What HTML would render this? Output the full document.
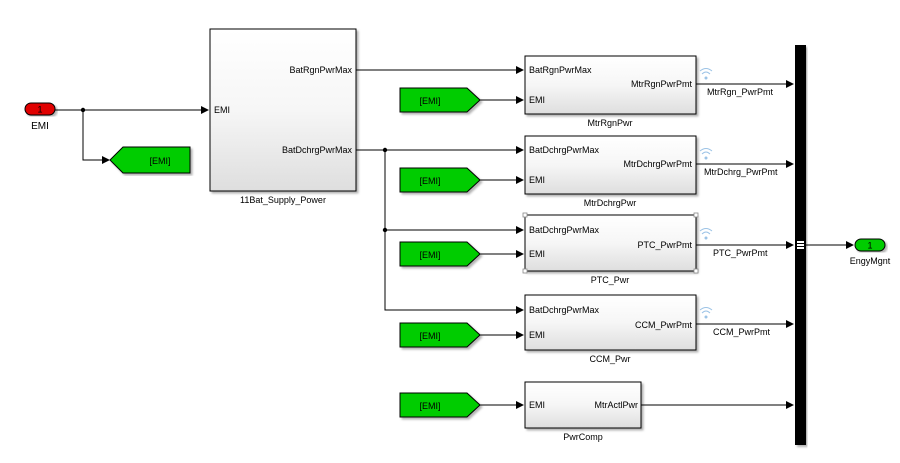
<!DOCTYPE html>
<html><head><meta charset="utf-8"><style>
html,body{margin:0;padding:0;background:#fff;}
svg{display:block;font-family:"Liberation Sans",Arial,sans-serif;}
</style></head><body>
<svg width="900" height="463" viewBox="0 0 900 463" xmlns="http://www.w3.org/2000/svg">
<defs>
<linearGradient id="g" x1="0" y1="0" x2="0" y2="1">
<stop offset="0" stop-color="#ffffff"/><stop offset="0.5" stop-color="#f6f6f6"/><stop offset="1" stop-color="#dedede"/>
</linearGradient>
<marker id="a" markerWidth="8" markerHeight="8" refX="7" refY="4" orient="auto" markerUnits="userSpaceOnUse">
<path d="M0,0 L8,4 L0,8 z" fill="#000"/></marker>
<filter id="s" x="-5%" y="-5%" width="115%" height="115%"><feDropShadow dx="2" dy="2" stdDeviation="1" flood-color="#000" flood-opacity="0.3"/></filter>
</defs>
<g font-size="9" fill="#000">
<rect x="25" y="103" width="30" height="12" rx="6" fill="#e00000" stroke="#000" stroke-width="1" filter="url(#s)"/>
<text x="40" y="112.5" text-anchor="middle" font-size="9">1</text>
<text x="40" y="129" text-anchor="middle" font-size="10">EMI</text>
<g stroke="#000" stroke-width="1" fill="none">
<path d="M55,110 H208" marker-end="url(#a)"/>
<path d="M83,110 V160 H109" marker-end="url(#a)"/>
<path d="M356,70 H523" marker-end="url(#a)"/>
<path d="M356,150 H523" marker-end="url(#a)"/>
<path d="M385,150 V310 H523" marker-end="url(#a)"/>
<path d="M385,230 H523" marker-end="url(#a)"/>
<path d="M480,100 H523" marker-end="url(#a)"/>
<path d="M480,180 H523" marker-end="url(#a)"/>
<path d="M480,254 H523" marker-end="url(#a)"/>
<path d="M480,335 H523" marker-end="url(#a)"/>
<path d="M480,405 H523" marker-end="url(#a)"/>
<path d="M696,84 H793" marker-end="url(#a)"/>
<path d="M696,164 H793" marker-end="url(#a)"/>
<path d="M696,245 H793" marker-end="url(#a)"/>
<path d="M696,324 H793" marker-end="url(#a)"/>
<path d="M641,405 H793" marker-end="url(#a)"/>
<path d="M806,245 H853" marker-end="url(#a)"/>
</g>
<circle cx="83" cy="110" r="2.2" fill="#000"/>
<circle cx="385" cy="150" r="2.2" fill="#000"/>
<circle cx="385" cy="230" r="2.2" fill="#000"/>
<path d="M110,160 L123,147 H190 V173 H123 Z" fill="#00cc00" stroke="#000" filter="url(#s)"/>
<text x="160" y="164" text-anchor="middle">[EMI]</text>
<g fill="#00cc00" stroke="#000" filter="url(#s)">
<path d="M400,88 H467 L480,100 L467,112 H400 Z"/>
<path d="M400,168 H467 L480,180 L467,192 H400 Z"/>
<path d="M400,242 H467 L480,254 L467,266 H400 Z"/>
<path d="M400,323 H467 L480,335 L467,347 H400 Z"/>
<path d="M400,393 H467 L480,405 L467,417 H400 Z"/>
</g>
<text x="430" y="104" text-anchor="middle">[EMI]</text>
<text x="430" y="184" text-anchor="middle">[EMI]</text>
<text x="430" y="258" text-anchor="middle">[EMI]</text>
<text x="430" y="339" text-anchor="middle">[EMI]</text>
<text x="430" y="409" text-anchor="middle">[EMI]</text>
<rect x="210" y="29" width="146" height="162" fill="url(#g)" stroke="#000" filter="url(#s)"/>
<text x="214" y="113">EMI</text>
<text x="352" y="73" text-anchor="end">BatRgnPwrMax</text>
<text x="352" y="153" text-anchor="end">BatDchrgPwrMax</text>
<text x="283" y="203" text-anchor="middle">11Bat_Supply_Power</text>
<g fill="url(#g)" stroke="#000" filter="url(#s)">
<rect x="525" y="56" width="171" height="58"/>
<rect x="525" y="136" width="171" height="58"/>
<rect x="525" y="215" width="171" height="56"/>
<rect x="525" y="295" width="171" height="55"/>
<rect x="525" y="382" width="116" height="46"/>
</g>
<g fill="#fff" stroke="#888" stroke-width="0.8">
<rect x="523" y="213" width="4" height="4"/><rect x="694" y="213" width="4" height="4"/>
<rect x="523" y="269" width="4" height="4"/><rect x="694" y="269" width="4" height="4"/>
</g>
<text x="529" y="73">BatRgnPwrMax</text><text x="529" y="103">EMI</text>
<text x="692" y="87" text-anchor="end">MtrRgnPwrPmt</text>
<text x="610" y="126" text-anchor="middle">MtrRgnPwr</text>
<text x="529" y="153">BatDchrgPwrMax</text><text x="529" y="183">EMI</text>
<text x="692" y="167" text-anchor="end">MtrDchrgPwrPmt</text>
<text x="610" y="206" text-anchor="middle">MtrDchrgPwr</text>
<text x="529" y="233">BatDchrgPwrMax</text><text x="529" y="257">EMI</text>
<text x="692" y="248" text-anchor="end">PTC_PwrPmt</text>
<text x="610" y="283" text-anchor="middle">PTC_Pwr</text>
<text x="529" y="313">BatDchrgPwrMax</text><text x="529" y="338">EMI</text>
<text x="692" y="328" text-anchor="end">CCM_PwrPmt</text>
<text x="610" y="362" text-anchor="middle">CCM_Pwr</text>
<text x="529" y="408">EMI</text>
<text x="638" y="408" text-anchor="end">MtrActlPwr</text>
<text x="583" y="440" text-anchor="middle">PwrComp</text>
<text x="707" y="95">MtrRgn_PwrPmt</text>
<text x="704" y="175">MtrDchrg_PwrPmt</text>
<text x="713" y="256">PTC_PwrPmt</text>
<text x="713" y="335">CCM_PwrPmt</text>
<g stroke="#9cc3e6" stroke-width="1" fill="none">
<path d="M700,71 Q706,66 712,71"/><path d="M702,74 Q706,70 710,74"/>
<path d="M700,151 Q706,146 712,151"/><path d="M702,154 Q706,150 710,154"/>
<path d="M700,231 Q706,226 712,231"/><path d="M702,234 Q706,230 710,234"/>
<path d="M700,310 Q706,305 712,310"/><path d="M702,313 Q706,309 710,313"/>
</g>
<g fill="#9cc3e6"><circle cx="706" cy="78" r="1.5"/><circle cx="706" cy="158" r="1.5"/><circle cx="706" cy="238" r="1.5"/><circle cx="706" cy="317" r="1.5"/></g>
<rect x="795" y="45" width="11" height="400" fill="#000" filter="url(#s)"/>
<rect x="797" y="241" width="7" height="8" fill="#fff"/>
<path d="M797,243.5 H804 M797,246.5 H804" stroke="#000" stroke-width="1"/>
<rect x="855" y="239" width="30" height="12" rx="6" fill="#00cc00" stroke="#000" filter="url(#s)"/>
<text x="870" y="248.5" text-anchor="middle">1</text>
<text x="870" y="264" text-anchor="middle">EngyMgnt</text>
</g>
</svg>
</body></html>
